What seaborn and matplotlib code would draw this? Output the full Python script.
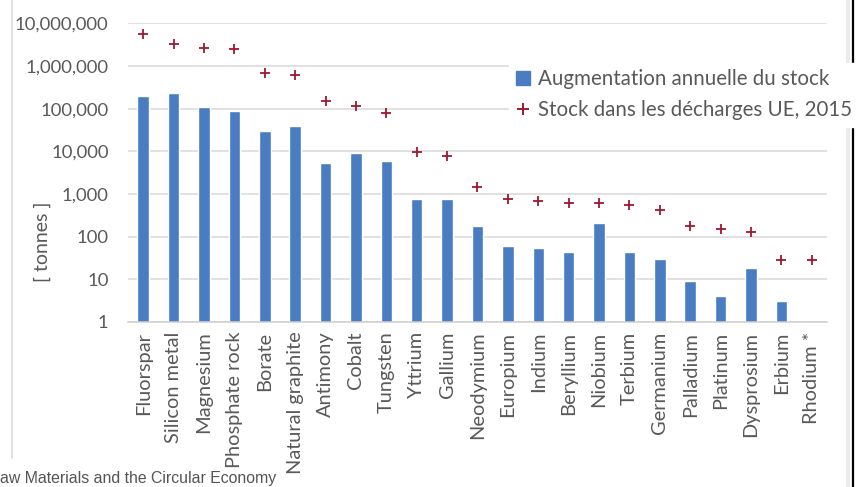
import numpy as np
import pandas as pd
import matplotlib
matplotlib.use("Agg")
import matplotlib.pyplot as plt
from matplotlib.ticker import FuncFormatter, FixedLocator, NullLocator
from matplotlib.lines import Line2D
import seaborn as sns

categories = ["Fluorspar", "Silicon metal", "Magnesium", "Phosphate rock", "Borate",
              "Natural graphite", "Antimony", "Cobalt", "Tungsten", "Yttrium", "Gallium",
              "Neodymium", "Europium", "Indium", "Beryllium", "Niobium", "Terbium",
              "Germanium", "Palladium", "Platinum", "Dysprosium", "Erbium", "Rhodium *"]
annual_increase = [200000, 230000, 110000, 87000, 30000, 40000, 5300, 9000, 6000, 760,
                   750, 180, 61, 53, 44, 210, 44, 30, 9.1, 4.1, 18, 3.1, np.nan]
landfill_stock = [5700000, 3300000, 2700000, 2500000, 690000, 600000, 155000, 115000,
                  80000, 9500, 7800, 1440, 780, 670, 600, 600, 540, 420, 178, 148, 126,
                  29, 29]
ytick_values = [1, 10, 100, 1000, 10000, 100000, 1000000, 10000000]

label_bar = "Augmentation annuelle du stock"
label_pts = "Stock dans les décharges UE, 2015"

df = pd.DataFrame({"cat": categories, "inc": annual_increase, "stock": landfill_stock})

sns.set_theme(style="white")
plt.rcParams["font.family"] = ["Lato", "DejaVu Sans"]

W, H = 862, 487
fig = plt.figure(figsize=(W / 100, H / 100), dpi=100)
fig.patch.set_facecolor("white")
ax = fig.add_axes([128 / W, 1 - 322 / H, (827 - 128) / W, (322 - 23.3) / H])

BLUE = "#4A7CC2"
RED = "#A0182D"
GREY = "#595959"

ax.set_yscale("log")
sns.barplot(data=df, x="cat", y="inc", order=categories, color=BLUE, width=0.38,
            saturation=1, ax=ax, zorder=2)
sns.scatterplot(data=df, x="cat", y="stock", marker="+", s=55, color=RED,
                linewidth=1.3, ax=ax, zorder=3)

ax.set_ylim(1, 1e7)
ax.set_xlim(-0.5, len(categories) - 0.5)
ax.yaxis.set_major_locator(FixedLocator(ytick_values))
ax.yaxis.set_minor_locator(NullLocator())
ax.yaxis.set_major_formatter(FuncFormatter(lambda v, p: f"{int(round(v)):,}"))
ax.grid(axis="y", color="#D9D9D9", linewidth=1.1, zorder=0)
ax.set_axisbelow(True)
for s in ["left", "right", "top"]:
    ax.spines[s].set_visible(False)
ax.spines["bottom"].set_color("#D0D0D0")
ax.spines["bottom"].set_linewidth(1.1)
ax.tick_params(axis="y", length=0, pad=14, labelsize=13.3, labelcolor=GREY)
ax.tick_params(axis="x", length=0, pad=7, labelsize=14.4, labelcolor=GREY)
plt.setp(ax.get_xticklabels(), rotation=90)
ax.set_xlabel("")
ax.set_ylabel("")
fig.text(42 / W, 1 - 242 / H, "[ tonnes ]", rotation=90, ha="center", va="center",
         fontsize=14, color=GREY)

handles = [Line2D([], [], marker="s", linestyle="none", color=BLUE, markersize=10),
           Line2D([], [], marker="+", linestyle="none", color=RED, markersize=9,
                  markeredgewidth=1.4)]
leg = fig.legend(handles, [label_bar, label_pts], loc="upper left",
                 bbox_to_anchor=(509 / W, 1 - 63 / H), frameon=True, framealpha=1,
                 edgecolor="white", facecolor="white", fancybox=False, fontsize=14.8,
                 handlelength=0.8, handletextpad=0.3, labelspacing=0.55, borderpad=0.3,
                 borderaxespad=0)
for t in leg.get_texts():
    t.set_color(GREY)

# screenshot borders
fig.add_artist(Line2D([12 / W, 12 / W], [1 - 458 / H, 1], color="#DADADA", lw=1.2))
fig.add_artist(Line2D([848 / W, 848 / W], [0, 1], color="#EBEBEB", lw=3))
fig.add_artist(Line2D([853.5 / W, 853.5 / W], [0, 1], color="black", lw=1.6))

fig.text(0, 1 - 478 / H, "aw Materials and the Circular Economy", ha="left", va="center",
         fontsize=11.4, color="#555555", family=["Liberation Sans", "DejaVu Sans"])

fig.savefig("out.png", dpi=100)
